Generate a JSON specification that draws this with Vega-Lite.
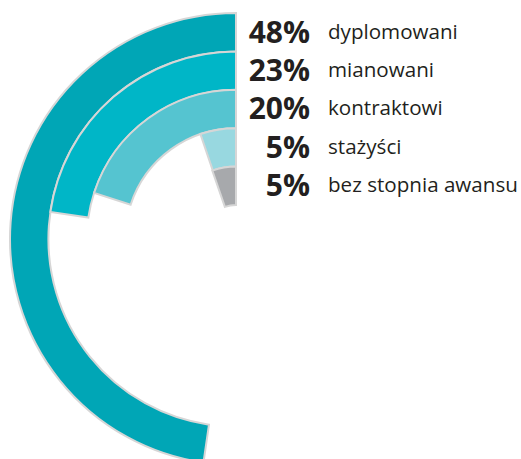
{
  "$schema": "https://vega.github.io/schema/vega-lite/v6.json",
  "width": 472,
  "height": 478,
  "autosize": {"type": "none"},
  "padding": {"left": 0, "top": 0, "right": 49, "bottom": 0},
  "background": "white",
  "config": {"view": {"stroke": null}},
  "data": {
    "values": [
      {"name": "dyplomowani", "value": 47.7, "label": "48%", "rank": 5},
      {"name": "mianowani", "value": 22.7, "label": "23%", "rank": 4},
      {"name": "kontraktowi", "value": 20, "label": "20%", "rank": 3},
      {"name": "stażyści", "value": 5.2, "label": "5%", "rank": 2},
      {"name": "bez stopnia awansu", "value": 5.3, "label": "5%", "rank": 1}
    ]
  },
  "layer": [
    {
      "transform": [{"calculate": "datum.rank - 1", "as": "inner"}],
      "mark": {"type": "arc", "stroke": "#d6d6d6", "strokeWidth": 2},
      "encoding": {
        "theta": {"field": "value", "type": "quantitative", "stack": null, "scale": {"domain": [0, 100], "range": [6.283185, 0]}},
        "theta2": {"datum": 0},
        "radius": {"field": "rank", "type": "quantitative", "scale": {"type": "linear", "zero": false, "domain": [0, 5], "range": [34, 226]}},
        "radius2": {"field": "inner"},
        "color": {
          "field": "name", "type": "nominal", "legend": null,
          "scale": {
            "domain": ["dyplomowani", "mianowani", "kontraktowi", "stażyści", "bez stopnia awansu"],
            "range": ["#00a6b6", "#00b6c7", "#55c4d0", "#98d8e0", "#a7a9ac"]
          }
        }
      }
    },
    {
      "mark": {"type": "text", "align": "right", "baseline": "alphabetic", "dx": 74, "dy": 29.5, "font": "Open Sans", "fontSize": 30, "fontWeight": "bold", "fill": "#231f20"},
      "encoding": {
        "theta": {"datum": 0},
        "radius": {"field": "rank", "type": "quantitative"},
        "text": {"field": "label"}
      }
    },
    {
      "mark": {"type": "text", "align": "left", "baseline": "alphabetic", "dx": 92, "dy": 25.5, "font": "Open Sans", "fontSize": 20.6, "fill": "#231f20"},
      "encoding": {
        "theta": {"datum": 0},
        "radius": {"field": "rank", "type": "quantitative"},
        "text": {"field": "name"}
      }
    }
  ]
}
